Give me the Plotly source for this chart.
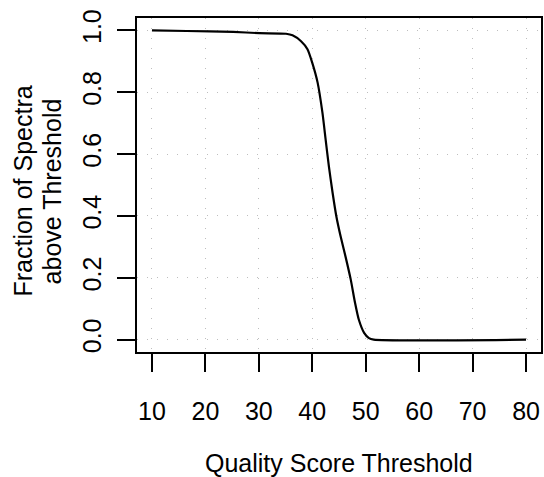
import plotly.graph_objects as go

# Data
quality_threshold = [10, 16.5, 25.2, 30.1, 35.1, 36.3, 37.9, 39.1, 40.0, 41.0, 41.9, 42.5,
                     43.1, 43.8, 44.5, 45.3, 46.2, 47.2, 48.0, 48.7, 49.7, 50.6, 51.5, 80]
fraction_above = [1.0, 0.998, 0.995, 0.991, 0.989, 0.984, 0.965, 0.939, 0.895, 0.831, 0.734, 0.647,
                  0.561, 0.475, 0.399, 0.334, 0.270, 0.194, 0.119, 0.065, 0.022, 0.005, 0.0, 0.0]
x_ticks = [10, 20, 30, 40, 50, 60, 70, 80]
y_ticks = [0.0, 0.2, 0.4, 0.6, 0.8, 1.0]
y_tick_text = ["0.0", "0.2", "0.4", "0.6", "0.8", "1.0"]

FONT = "Liberation Sans, Arial, Helvetica, sans-serif"
FS = 25
W, H = 544, 477
L, R, T, B = 137, 1, 18, 125
PW, PH = W - L - R, H - T - B

def px_x(px):
    return (px - L) / PW

def px_y(py):
    return (H - B - py) / PH

fig = go.Figure()
fig.add_trace(go.Scatter(x=quality_threshold, y=fraction_above, mode="lines",
                         line=dict(color="black", width=2.2, shape="spline", smoothing=0.6),
                         showlegend=False, hoverinfo="skip"))

axis_common = dict(showline=True, mirror=True, linecolor="black", linewidth=1.5,
                   ticks="outside", ticklen=18, tickwidth=1.5, tickcolor="black",
                   showgrid=True, gridcolor="#bebebe", gridwidth=1, griddash="1px,9px",
                   zeroline=False, tickfont=dict(family=FONT, size=FS, color="black"))

fig.update_xaxes(range=[7.2, 82.8], tickvals=x_ticks, ticklabelstandoff=18, **axis_common)
fig.update_yaxes(range=[-0.04, 1.04], tickvals=y_ticks, ticktext=y_tick_text,
                 tickangle=-90, ticklabelstandoff=6, **axis_common)

fig.update_layout(
    width=W, height=H,
    margin=dict(l=L, r=R, t=T, b=B, pad=0),
    plot_bgcolor="white", paper_bgcolor="white",
    font=dict(family=FONT, size=FS, color="black"),
    annotations=[
        dict(text="Quality Score Threshold", xref="paper", yref="paper",
             x=0.5, y=px_y(463), xanchor="center", yanchor="middle", showarrow=False,
             font=dict(family=FONT, size=FS, color="black")),
        dict(text="Fraction of Spectra", xref="paper", yref="paper", textangle=-90,
             x=px_x(22), y=px_y(191), xanchor="center", yanchor="middle", showarrow=False,
             font=dict(family=FONT, size=FS, color="black")),
        dict(text="above Threshold", xref="paper", yref="paper", textangle=-90,
             x=px_x(52), y=px_y(191), xanchor="center", yanchor="middle", showarrow=False,
             font=dict(family=FONT, size=FS, color="black")),
    ],
)

fig.write_html("out.html")
